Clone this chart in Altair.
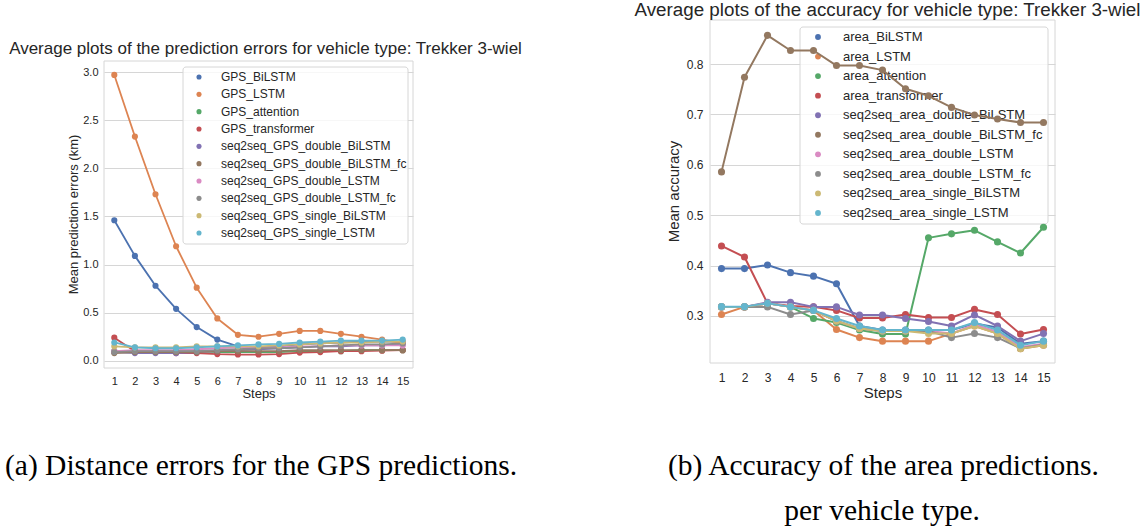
import altair as alt
import pandas as pd

SANS = "Liberation Sans"
SERIF = "Liberation Serif"
INK = "#262626"
GRID = "#d6d6d6"

steps = list(range(1, 16))

# seaborn "deep" palette
palette = ["#4C72B0", "#DD8452", "#55A868", "#C44E52", "#8172B3",
           "#937860", "#DA8BC3", "#8C8C8C", "#CCB974", "#64B5CD"]

# ---- GPS prediction errors (km) per step ----
gps_models = ["GPS_BiLSTM", "GPS_LSTM", "GPS_attention", "GPS_transformer",
              "seq2seq_GPS_double_BiLSTM", "seq2seq_GPS_double_BiLSTM_fc",
              "seq2seq_GPS_double_LSTM", "seq2seq_GPS_double_LSTM_fc",
              "seq2seq_GPS_single_BiLSTM", "seq2seq_GPS_single_LSTM"]
gps_bilstm = [1.46, 1.09, 0.78, 0.54, 0.35, 0.22, 0.15, 0.14, 0.15, 0.17, 0.18, 0.19, 0.20, 0.20, 0.20]
gps_lstm = [2.97, 2.33, 1.73, 1.19, 0.76, 0.44, 0.27, 0.25, 0.28, 0.31, 0.31, 0.28, 0.25, 0.22, 0.18]
gps_attention = [0.10, 0.10, 0.10, 0.10, 0.10, 0.09, 0.09, 0.09, 0.09, 0.10, 0.10, 0.10, 0.11, 0.11, 0.11]
gps_transformer = [0.24, 0.10, 0.09, 0.08, 0.08, 0.07, 0.065, 0.065, 0.07, 0.085, 0.09, 0.10, 0.10, 0.105, 0.11]
gps_double_bilstm = [0.09, 0.08, 0.08, 0.08, 0.09, 0.10, 0.11, 0.12, 0.13, 0.14, 0.15, 0.15, 0.16, 0.16, 0.17]
gps_double_bilstm_fc = [0.08, 0.09, 0.09, 0.09, 0.09, 0.10, 0.10, 0.10, 0.10, 0.11, 0.11, 0.11, 0.11, 0.11, 0.11]
gps_double_lstm = [0.10, 0.11, 0.11, 0.11, 0.12, 0.13, 0.14, 0.14, 0.14, 0.15, 0.15, 0.16, 0.16, 0.16, 0.16]
gps_double_lstm_fc = [0.09, 0.10, 0.10, 0.10, 0.10, 0.11, 0.12, 0.13, 0.13, 0.14, 0.15, 0.16, 0.17, 0.17, 0.18]
gps_single_bilstm = [0.15, 0.14, 0.14, 0.14, 0.15, 0.15, 0.15, 0.15, 0.16, 0.17, 0.18, 0.19, 0.19, 0.20, 0.20]
gps_single_lstm = [0.19, 0.14, 0.13, 0.13, 0.14, 0.15, 0.16, 0.17, 0.175, 0.19, 0.20, 0.21, 0.21, 0.21, 0.22]
gps_series = [gps_bilstm, gps_lstm, gps_attention, gps_transformer,
              gps_double_bilstm, gps_double_bilstm_fc, gps_double_lstm,
              gps_double_lstm_fc, gps_single_bilstm, gps_single_lstm]

# ---- area prediction accuracy per step ----
area_models = ["area_BiLSTM", "area_LSTM", "area_attention", "area_transformer",
               "seq2seq_area_double_BiLSTM", "seq2seq_area_double_BiLSTM_fc",
               "seq2seq_area_double_LSTM", "seq2seq_area_double_LSTM_fc",
               "seq2seq_area_single_BiLSTM", "seq2seq_area_single_LSTM"]
area_bilstm = [0.394, 0.394, 0.401, 0.386, 0.379, 0.364, 0.280, 0.272, 0.272, 0.272, 0.272, 0.285, 0.277, 0.245, 0.250]
area_lstm = [0.303, 0.318, 0.325, 0.318, 0.311, 0.273, 0.257, 0.250, 0.250, 0.250, 0.265, 0.280, 0.265, 0.235, 0.242]
area_attention = [0.318, 0.318, 0.325, 0.318, 0.295, 0.287, 0.272, 0.264, 0.264, 0.455, 0.463, 0.470, 0.447, 0.425, 0.476]
area_transformer = [0.439, 0.417, 0.325, 0.320, 0.318, 0.311, 0.296, 0.296, 0.303, 0.297, 0.297, 0.313, 0.303, 0.264, 0.273]
area_double_bilstm = [0.318, 0.318, 0.327, 0.327, 0.318, 0.318, 0.302, 0.302, 0.295, 0.289, 0.280, 0.302, 0.280, 0.250, 0.265]
area_double_bilstm_fc = [0.586, 0.774, 0.857, 0.827, 0.827, 0.797, 0.797, 0.788, 0.751, 0.737, 0.714, 0.699, 0.691, 0.684, 0.684]
area_double_lstm = [0.318, 0.318, 0.325, 0.318, 0.311, 0.290, 0.275, 0.270, 0.270, 0.270, 0.265, 0.283, 0.268, 0.238, 0.245]
area_double_lstm_fc = [0.318, 0.318, 0.318, 0.303, 0.311, 0.290, 0.275, 0.270, 0.270, 0.270, 0.257, 0.265, 0.257, 0.236, 0.243]
area_single_bilstm = [0.318, 0.318, 0.325, 0.318, 0.311, 0.290, 0.275, 0.270, 0.270, 0.265, 0.265, 0.280, 0.265, 0.235, 0.242]
area_single_lstm = [0.3185, 0.3185, 0.325, 0.318, 0.311, 0.295, 0.280, 0.272, 0.272, 0.272, 0.272, 0.287, 0.272, 0.242, 0.250]
area_series = [area_bilstm, area_lstm, area_attention, area_transformer,
               area_double_bilstm, area_double_bilstm_fc, area_double_lstm,
               area_double_lstm_fc, area_single_bilstm, area_single_lstm]

gps_ticks = [0.0, 0.5, 1.0, 1.5, 2.0, 2.5, 3.0]
area_ticks = [0.3, 0.4, 0.5, 0.6, 0.7, 0.8]


def long_table(models, series):
    rows = []
    for name, values in zip(models, series):
        for step, v in zip(steps, values):
            rows.append({"model": name, "step": step, "value": v})
    return pd.DataFrame(rows)


def panel(models, series, o):
    table = long_table(models, series)
    color = alt.Color("model:N", scale=alt.Scale(domain=models, range=palette), legend=None)
    x = alt.X("step:Q",
              scale=alt.Scale(domain=[0.5, 15.5], nice=False, zero=False),
              axis=alt.Axis(values=steps, grid=False, domain=False, ticks=False,
                            labelPadding=o["xlabpad"], labelFontSize=o["tick"], labelFont=SANS,
                            labelColor=INK, title="Steps", titleFont=SANS,
                            titleFontSize=o["axtitle"], titleFontWeight="normal", titleColor=INK,
                            titleBaseline="alphabetic", titleY=o["xtitle_y"]))
    y = alt.Y("value:Q",
              scale=alt.Scale(domain=o["ydom"], range=o["yrange"], nice=False, zero=False),
              axis=alt.Axis(values=o["yticks"], format=".1f", grid=True, gridColor=GRID,
                            gridWidth=1, domain=False, ticks=False, labelPadding=o["ylabpad"],
                            labelFontSize=o["tick"], labelFont=SANS, labelColor=INK,
                            title=o["ytitle"], titleFont=SANS, titleFontSize=o["axtitle"],
                            titleFontWeight="normal", titleColor=INK, titleBaseline="alphabetic",
                            titleX=o["ytitle_x"], titleY=o["ytitle_y"]))

    # one line + its markers per model, drawn in model order
    layers = []
    for name in models:
        one = alt.Chart(table).transform_filter(alt.datum.model == name)
        layers.append(one.mark_line(strokeWidth=o["lw"], strokeJoin="round")
                      .encode(x=x, y=y, color=color))
        layers.append(one.mark_circle(size=o["dot"], opacity=1)
                      .encode(x=x, y=y, color=color))
    lines = alt.layer(*layers)

    one_row = alt.Data(values=[{"k": 0}])
    frame = alt.Chart(one_row).mark_rect(fillOpacity=0, stroke=GRID, strokeWidth=1).encode(
        x=alt.value(0), x2=alt.value(o["w"]), y=alt.value(o["frame_top"]), y2=alt.value(o["h"]))

    # legend drawn as marks so the lines can pass over it
    keys = pd.DataFrame({"model": models, "rank": list(range(len(models)))})
    ly = alt.Y("rank:Q", scale=alt.Scale(domain=[0, len(models) - 1], range=o["leg_rows"]),
               axis=None)
    bx0, bx1, by0, by1 = o["leg_box"]
    box = alt.Chart(one_row).mark_rect(fill="white", fillOpacity=0.8, stroke=GRID,
                                       strokeWidth=1, cornerRadius=3).encode(
        x=alt.value(bx0), x2=alt.value(bx1), y=alt.value(by0), y2=alt.value(by1))
    swatches = alt.Chart(keys).mark_circle(size=o["leg_dot"], opacity=1).encode(
        x=alt.value(o["leg_sym_x"]), y=ly, color=color)
    labels = alt.Chart(keys).mark_text(align="left", baseline="middle", font=SANS,
                                       fontSize=o["leg_font"], color=INK).encode(
        x=alt.value(o["leg_text_x"]), y=ly, text="model:N")

    captions = []
    for text, cx, cy, align in o["captions"]:
        captions.append(alt.Chart(one_row).mark_text(
            align=align, baseline="alphabetic", font=SERIF, fontSize=o["cap_font"],
            color="black").encode(x=alt.value(cx), y=alt.value(cy), text=alt.value(text)))

    return alt.layer(frame, box, swatches, labels, lines, *captions).resolve_scale(
        y="independent").properties(
        width=o["w"], height=o["h"],
        title=alt.TitleParams(o["title"], anchor="middle", font=SANS, fontSize=o["title_font"],
                              fontWeight="normal", color=INK, baseline="alphabetic",
                              offset=0, dx=o["title_dx"], dy=o["title_dy"]))


left = panel(gps_models, gps_series, {
    "w": 309, "h": 348, "frame_top": 41,
    "ydom": [-0.075, 3.115], "yrange": [348, 41], "yticks": gps_ticks,
    "ytitle": "Mean prediction errors (km)", "ytitle_x": -27, "ytitle_y": 194,
    "xlabpad": 7, "ylabpad": 6, "xtitle_y": 29,
    "tick": 11, "axtitle": 13, "lw": 1.8, "dot": 38,
    "leg_box": [79, 304, 47, 224], "leg_rows": [57, 213], "leg_sym_x": 95,
    "leg_text_x": 117, "leg_dot": 26, "leg_font": 12,
    "title": "Average plots of the prediction errors for vehicle type: Trekker 3-wiel",
    "title_font": 17, "title_dx": 7, "title_dy": 50.5,
    "cap_font": 29.5,
    "captions": [("(a) Distance errors for the GPS predictions.", -99, 455, "left")],
})

right = panel(area_models, area_series, {
    "w": 345, "h": 343, "frame_top": 0,
    "ydom": [0.2066, 0.8875], "yrange": [343, 0], "yticks": area_ticks,
    "ytitle": "Mean accuracy", "ytitle_x": -32, "ytitle_y": 171,
    "xlabpad": 9, "ylabpad": 7, "xtitle_y": 34,
    "tick": 12, "axtitle": 15, "lw": 2, "dot": 50,
    "leg_box": [90, 338, 7, 204], "leg_rows": [17, 193], "leg_sym_x": 108,
    "leg_text_x": 133, "leg_dot": 34, "leg_font": 13,
    "title": "Average plots of the accuracy for vehicle type: Trekker 3-wiel",
    "title_font": 18.8, "title_dx": 5, "title_dy": 15,
    "cap_font": 29.5,
    "captions": [("(b) Accuracy of the area predictions.", -42, 455, "left"),
                 ("per vehicle type.", 172, 500, "center")],
})

chart = alt.hconcat(left, right, spacing=297, bounds="flush").properties(
    padding={"left": 5, "top": 0, "right": 0, "bottom": 0},
    background="white",
).configure_view(stroke=None)

chart.save("out.html", embed_options={"renderer": "svg", "actions": False})
